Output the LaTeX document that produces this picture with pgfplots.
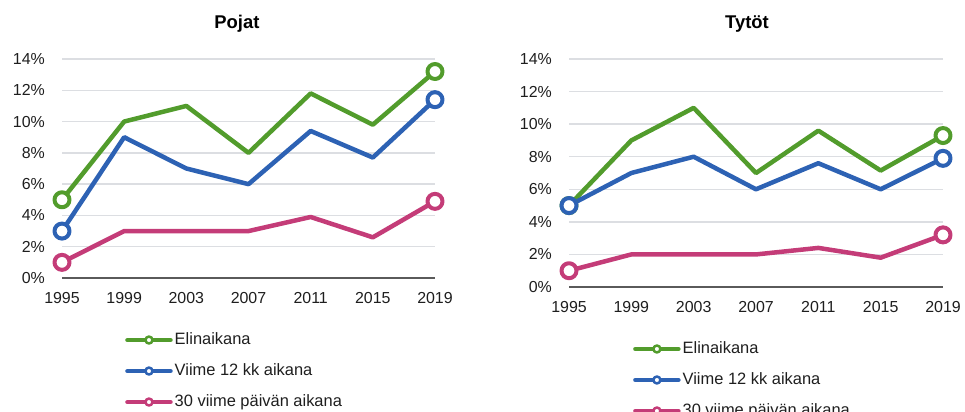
\documentclass[border=0pt]{standalone}
\usepackage{fontspec}
\setmainfont{Liberation Sans}
\usepackage{pgfplots}
\pgfplotsset{compat=1.18}
\definecolor{cgreen}{RGB}{82,156,44}
\definecolor{cblue}{RGB}{45,98,180}
\definecolor{cpink}{RGB}{196,60,120}
\definecolor{gridgray}{RGB}{220,222,226}
\definecolor{axisgray}{RGB}{90,90,90}
\definecolor{textgray}{RGB}{30,30,30}
\pgfplotsset{
  common/.style={
    scale only axis, anchor=south west, clip=false,
    xmin=1995, xmax=2019, ymin=0, ymax=14,
    xtick={1995,1999,2003,2007,2011,2015,2019},
    ytick={0,2,4,6,8,10,12,14},
    /pgf/number format/1000 sep={},
    /pgf/number format/assume math mode=true,
    yticklabel={\pgfmathprintnumber{\tick}\%},
    ymajorgrids, grid style={gridgray, line width=1.5bp},
    axis x line*=bottom, axis y line*=left,
    x axis line style={axisgray, line width=2bp, -},
    y axis line style={draw=none},
    major tick length=0pt, tick style={draw=none},
    tick label style={font=\fontsize{16}{19}\selectfont, text=textgray},
    xticklabel style={inner sep=0pt, anchor=north, yshift=-14bp},
    yticklabel style={inner sep=0pt, anchor=east, xshift=-17bp},
    title style={font=\bfseries\fontsize{18.5}{22}\selectfont, anchor=center, text=black},
    legend cell align=left,
    legend style={draw=none, fill=none, anchor=north west, inner sep=0pt,
      font=\fontsize{16.5}{19}\selectfont, text=textgray,
      row sep=15.5bp, column sep=2bp,
      nodes={inner sep=0pt, text height=12bp, text depth=3.5bp}},
    legend image code/.code={
      \draw[line width=4.5bp, line cap=round] (0bp,0bp) -- (43bp,0bp);
      \draw[line width=2.5bp, fill=white] (21.5bp,0bp) circle (3.5bp);
    },
    every axis plot/.append style={line width=4.5bp, line join=round,
      mark=*, mark indices={1,7}, mark size=7.5bp,
      mark options={fill=white, solid, line width=4bp}},
  }
}
\begin{document}
\begin{tikzpicture}
\path[use as bounding box] (0,0) rectangle (965bp,412bp);
\clip (0,0) rectangle (965bp,412bp);
\begin{axis}[common, at={(62bp,134bp)}, width=373bp, height=219bp,
  title={Pojat}, title style={at={(0.469,1)}, yshift=29bp},
  legend style={at={(0.169,-0.247)}}]
\addplot[cgreen] coordinates {(1995,5) (1999,10) (2003,11) (2007,8) (2011,11.8) (2015,9.8) (2019,13.2)};
\addlegendentry{Elinaikana}
\addplot[cblue] coordinates {(1995,3) (1999,9) (2003,7) (2007,6) (2011,9.4) (2015,7.7) (2019,11.4)};
\addlegendentry{Viime 12 kk aikana}
\addplot[cpink] coordinates {(1995,1) (1999,3) (2003,3) (2007,3) (2011,3.9) (2015,2.6) (2019,4.9)};
\addlegendentry{30 viime päivän aikana}
\end{axis}
\begin{axis}[common, at={(569bp,125bp)}, width=374bp, height=228bp,
  title={Tytöt}, title style={at={(0.476,1)}, yshift=29bp},
  legend style={at={(0.171,-0.237)}}]
\addplot[cgreen] coordinates {(1995,5) (1999,9) (2003,11) (2007,7) (2011,9.6) (2015,7.15) (2019,9.3)};
\addlegendentry{Elinaikana}
\addplot[cblue] coordinates {(1995,5) (1999,7) (2003,8) (2007,6) (2011,7.6) (2015,6) (2019,7.9)};
\addlegendentry{Viime 12 kk aikana}
\addplot[cpink] coordinates {(1995,1) (1999,2) (2003,2) (2007,2) (2011,2.4) (2015,1.8) (2019,3.2)};
\addlegendentry{30 viime päivän aikana}
\end{axis}
\end{tikzpicture}
\end{document}
